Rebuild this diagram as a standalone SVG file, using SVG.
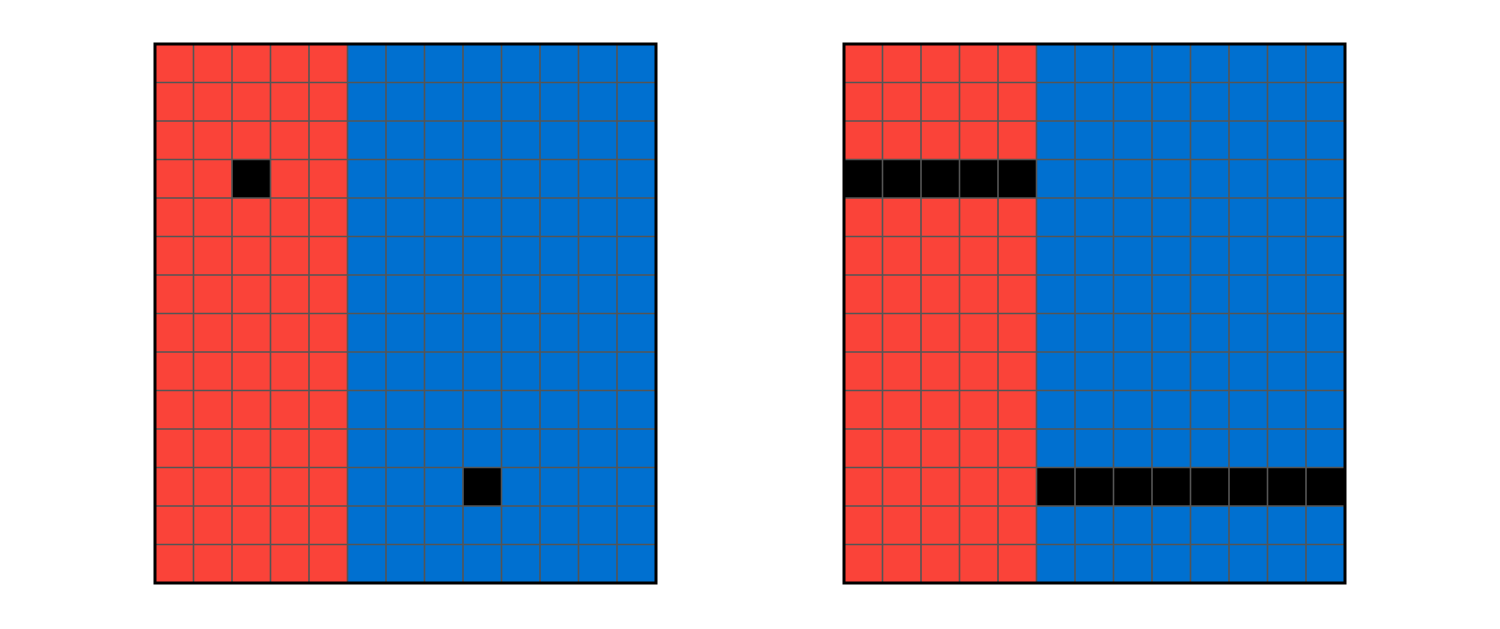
<svg xmlns="http://www.w3.org/2000/svg" xmlns:xlink="http://www.w3.org/1999/xlink" width="1500" height="629" viewBox="0 0 1500 629">
<style>
.red{fill:#FA4339}
.blue{fill:#0070D0}
.blk{fill:#000000}
.grid{fill:none;stroke:#555555;stroke-width:1.6}
.border{fill:none;stroke:#000000;stroke-width:3}
</style>
<defs>
<path id="gridlines" class="grid" d="M38.5 0V539M77 0V539M115.5 0V539M154 0V539M192.5 0V539M231 0V539M269.5 0V539M308 0V539M346.5 0V539M385 0V539M423.5 0V539M462 0V539M0 38.5H501M0 77H501M0 115.5H501M0 154H501M0 192.5H501M0 231H501M0 269.5H501M0 308H501M0 346.5H501M0 385H501M0 423.5H501M0 462H501M0 500.5H501"/>
</defs>
<rect width="1500" height="629" fill="#ffffff"/>
<g id="grid-left" transform="translate(155,44)">
<rect class="red" x="0" y="0" width="192.5" height="539"/>
<rect class="blue" x="192.5" y="0" width="308.5" height="539"/>
<rect class="blk" x="77" y="115.5" width="38.5" height="38.5"/>
<rect class="blk" x="308" y="423.5" width="38.5" height="38.5"/>
<use xlink:href="#gridlines"/>
<rect class="border" x="0" y="0" width="501" height="539"/>
</g>
<g id="grid-right" transform="translate(844,44)">
<rect class="red" x="0" y="0" width="192.5" height="539"/>
<rect class="blue" x="192.5" y="0" width="308.5" height="539"/>
<rect class="blk" x="0" y="115.5" width="192.5" height="38.5"/>
<rect class="blk" x="192.5" y="423.5" width="308.5" height="38.5"/>
<use xlink:href="#gridlines"/>
<rect class="border" x="0" y="0" width="501" height="539"/>
</g>
</svg>
